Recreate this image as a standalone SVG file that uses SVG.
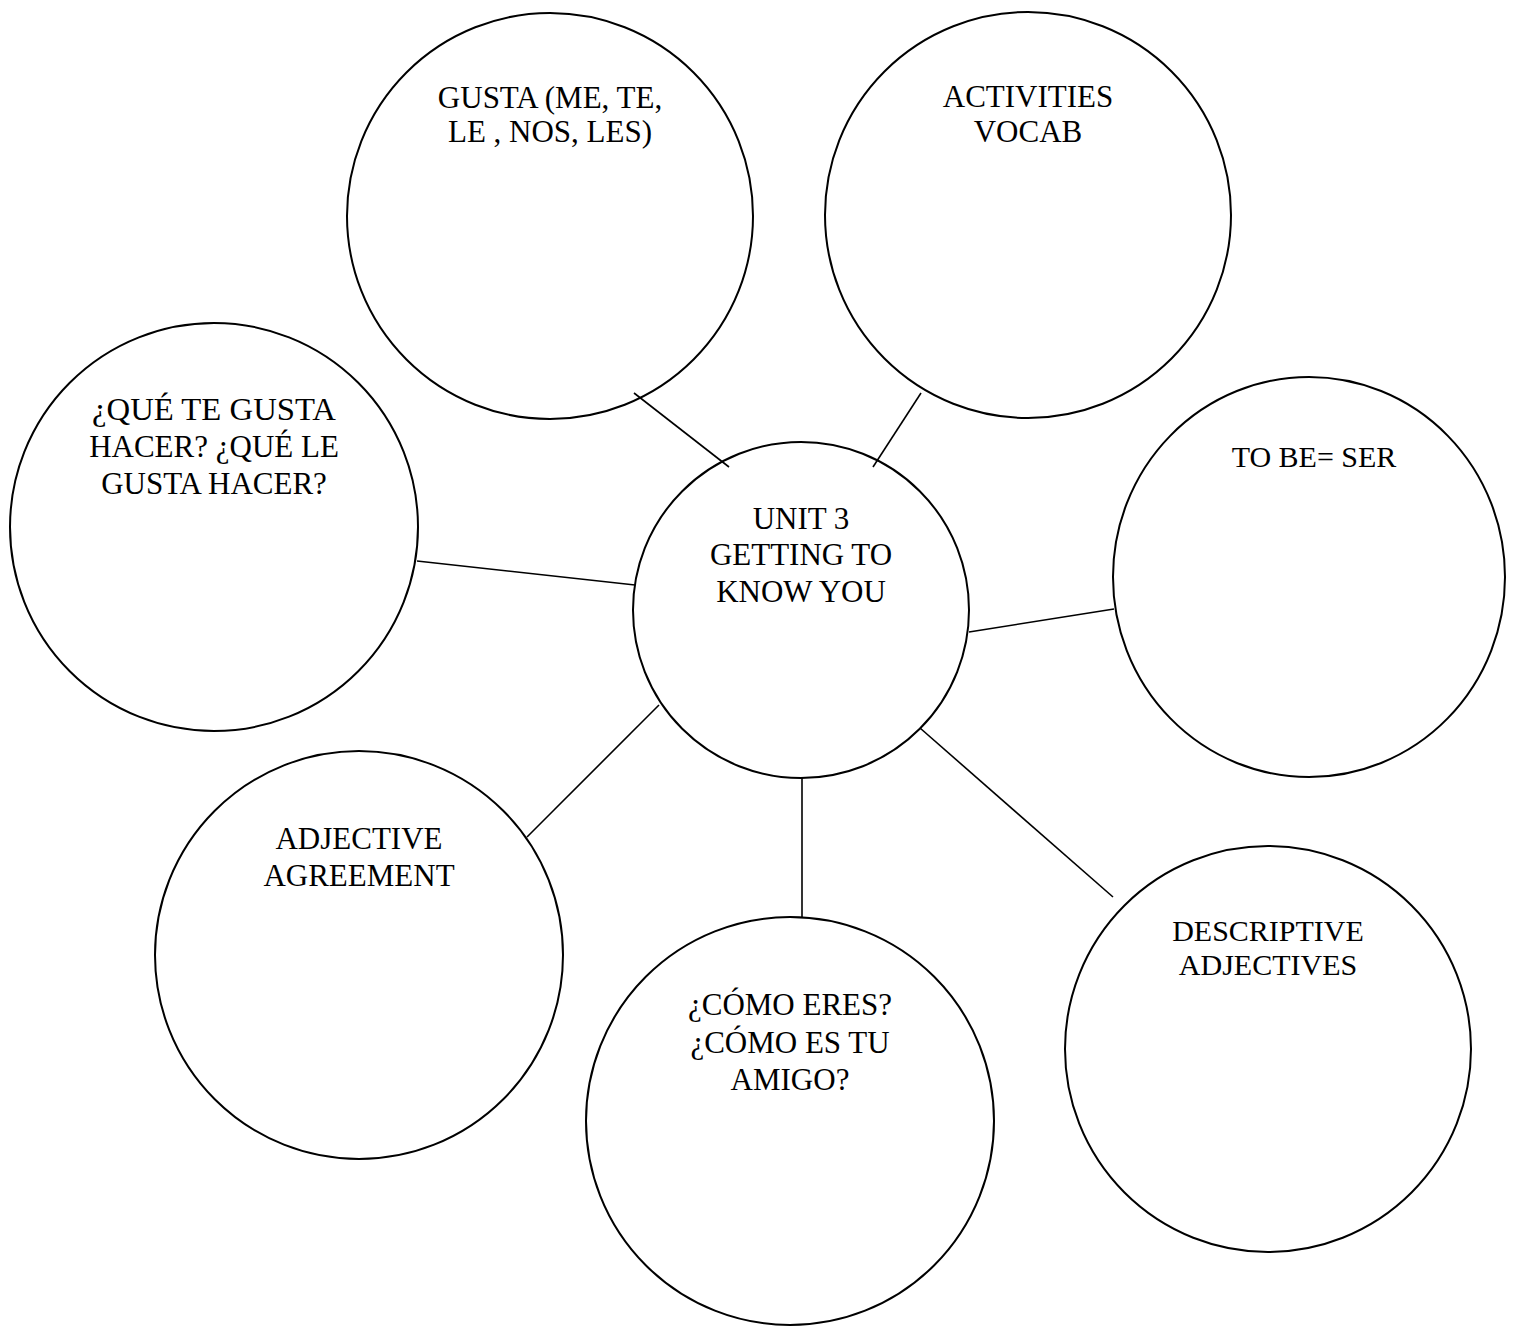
<svg xmlns="http://www.w3.org/2000/svg" width="1530" height="1330" viewBox="0 0 1530 1330">
<style>
.n{fill:none;stroke:#000;stroke-width:2}
.c line{stroke:#000;stroke-width:1.6}
text{font-family:"Liberation Serif","Times New Roman",serif;font-size:31px;fill:#000;text-anchor:middle}
.s{font-size:30px}
</style>
<rect width="1530" height="1330" fill="#fff"/>
<g id="center"><circle class="n" cx="801" cy="610" r="168"/><text x="801" y="529">UNIT 3</text><text x="801" y="565">GETTING TO</text><text x="801" y="602">KNOW YOU</text></g>
<g id="gusta"><circle class="n" cx="550" cy="216" r="203"/><text x="550" y="108">GUSTA (ME, TE,</text><text x="550" y="142">LE , NOS, LES)</text></g>
<g id="activities"><circle class="n" cx="1028" cy="215" r="203"/><text x="1028" y="107">ACTIVITIES</text><text x="1028" y="142">VOCAB</text></g>
<g id="que"><circle class="n" cx="214" cy="527" r="204"/><text x="214" y="420" textLength="244" lengthAdjust="spacingAndGlyphs">¿QUÉ TE GUSTA</text><text x="214" y="457">HACER? ¿QUÉ LE</text><text x="214" y="494">GUSTA HACER?</text></g>
<g id="tobe"><ellipse class="n" cx="1309" cy="577" rx="196" ry="200"/><text class="s" x="1314" y="467">TO BE= SER</text></g>
<g id="agreement"><circle class="n" cx="359" cy="955" r="204"/><text x="359" y="849">ADJECTIVE</text><text x="359" y="886">AGREEMENT</text></g>
<g id="como"><circle class="n" cx="790" cy="1121" r="204"/><text x="790" y="1015">¿CÓMO ERES?</text><text x="790" y="1053">¿CÓMO ES TU</text><text x="790" y="1090">AMIGO?</text></g>
<g id="descriptive"><circle class="n" cx="1268" cy="1049" r="203"/><text class="s" x="1268" y="941">DESCRIPTIVE</text><text class="s" x="1268" y="975">ADJECTIVES</text></g>
<g class="c" id="connectors">
<line x1="634" y1="393" x2="729" y2="467"/>
<line x1="921" y1="393" x2="873" y2="467"/>
<line x1="417" y1="561" x2="635" y2="585"/>
<line x1="969" y1="632" x2="1114" y2="609"/>
<line x1="659" y1="705" x2="527" y2="837"/>
<line x1="802" y1="778" x2="802" y2="918"/>
<line x1="920" y1="728" x2="1113" y2="897"/>
</g>
</svg>
